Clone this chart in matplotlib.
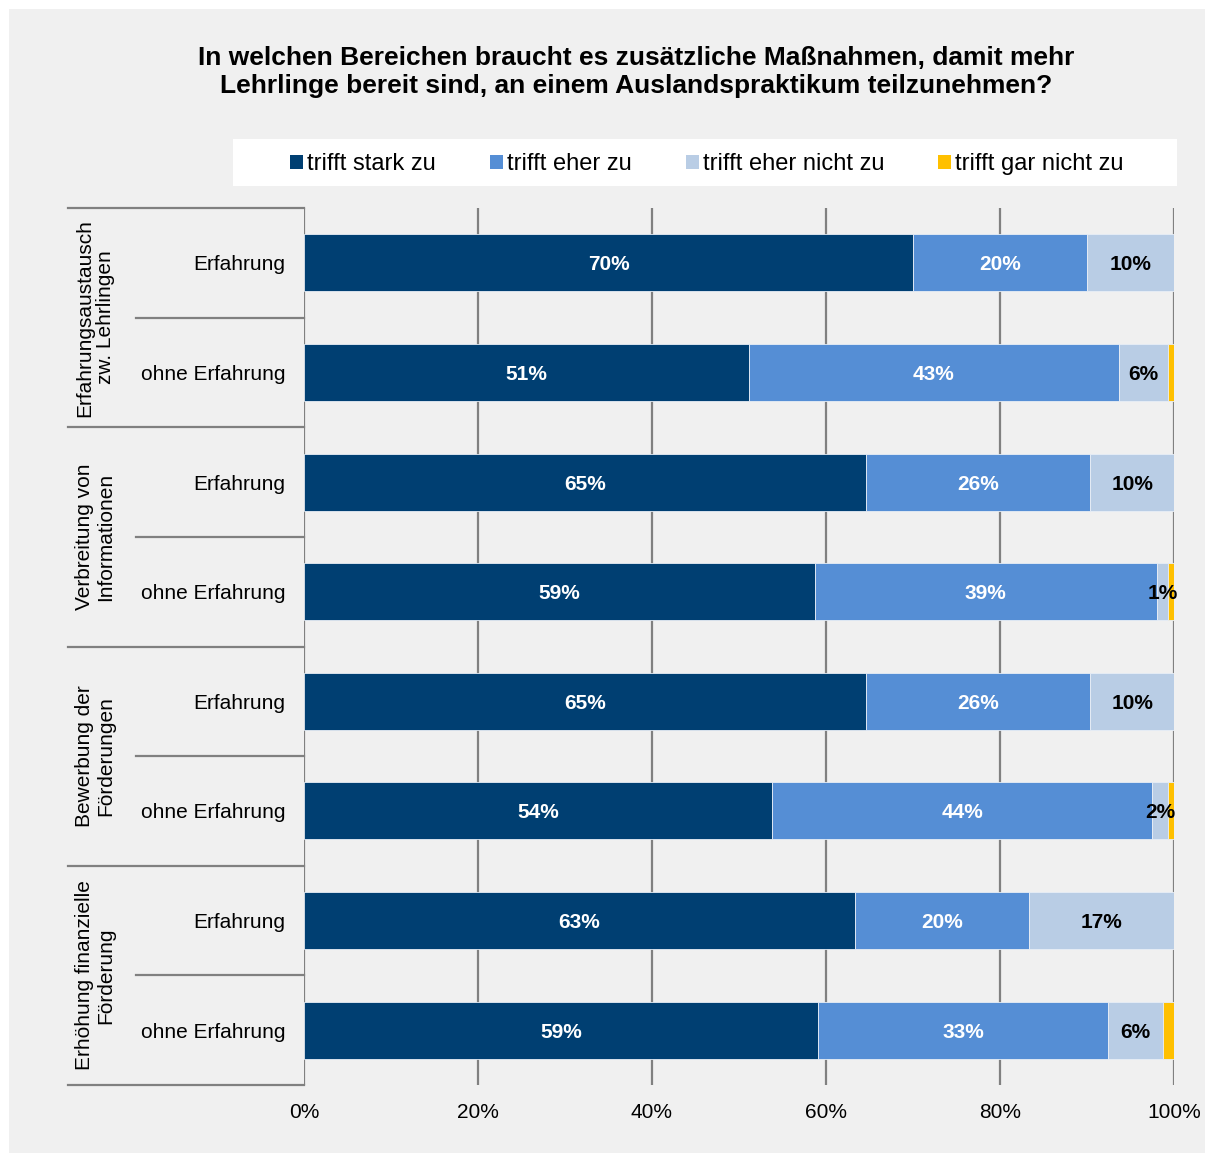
import numpy as np
import matplotlib.pyplot as plt
import matplotlib.transforms as mtransforms
from matplotlib.patches import Rectangle, Patch

plt.rcParams['font.family'] = ['Liberation Sans', 'DejaVu Sans']

# data
groups = ["Erfahrungsaustausch\nzw. Lehrlingen", "Verbreitung von\nInformationen",
          "Bewerbung der\nFörderungen", "Erhöhung finanzielle\nFörderung"]
subgroups = ["Erfahrung", "ohne Erfahrung"]
series_names = ["trifft stark zu", "trifft eher zu", "trifft eher nicht zu", "trifft gar nicht zu"]
stark = [70.0, 51.1, 64.6, 58.7, 64.6, 53.8, 63.3, 59.1]
eher = [20.0, 42.6, 25.8, 39.3, 25.8, 43.7, 20.0, 33.3]
eher_nicht = [10.0, 5.6, 9.6, 1.3, 9.6, 1.8, 16.7, 6.3]
gar_nicht = [0.0, 0.7, 0.0, 0.7, 0.0, 0.7, 0.0, 1.3]
colors = ["#003f72", "#558ed5", "#b9cde5", "#ffc000"]
label_colors = ["white", "white", "black", None]

W, H = 1214, 1162
fig = plt.figure(figsize=(W / 100, H / 100), dpi=100, facecolor="white")
fig.patches.append(Rectangle((9 / W, 9 / H), 1196 / W, 1144 / H, transform=fig.transFigure,
                             facecolor="#f0f0f0", edgecolor="none", zorder=-10))

ax = fig.add_axes([304 / W, 1 - 1085 / H, 870 / W, 877 / H])
ax.set_facecolor("#f0f0f0")

y = np.arange(len(stark))
left = np.zeros(len(stark))
for vals, col, lcol in zip([stark, eher, eher_nicht, gar_nicht], colors, label_colors):
    vals = np.array(vals)
    ax.barh(y, vals, left=left, height=0.52, color=col, edgecolor="#e8eef6", linewidth=0.6)
    if lcol:
        for yi, l, v in zip(y, left, vals):
            ax.text(l + v / 2, yi, f"{v:.0f}%", ha="center", va="center_baseline", color=lcol,
                    fontsize=15, fontweight="bold")
    left += vals

ax.set_xlim(0, 100)
ax.set_ylim(7.5, -0.5)
ax.set_xticks(np.arange(0, 101, 20))
ax.set_xticklabels([f"{t}%" for t in range(0, 101, 20)])
ax.set_yticks([])
ax.tick_params(axis="x", length=0, pad=13, labelsize=15)
ax.grid(axis="x", color="#808080", linewidth=1.6)
ax.set_axisbelow(True)
for s in ax.spines.values():
    s.set_visible(False)

trans = mtransforms.blended_transform_factory(ax.transAxes, ax.transData)
for b in [-0.5, 1.5, 3.5, 5.5, 7.5]:
    ax.plot([-0.2713, 0], [b, b], transform=trans, color="#808080", lw=1.6, clip_on=False)
for b in [0.5, 2.5, 4.5, 6.5]:
    ax.plot([-0.1931, 0], [b, b], transform=trans, color="#808080", lw=1.6, clip_on=False)

for i in range(len(stark)):
    ax.text(-0.0218, i, subgroups[i % 2], transform=trans, ha="right", va="center_baseline",
            fontsize=15)
for g, name in enumerate(groups):
    ax.text(-0.2402, 2 * g + 0.5, name, transform=trans, rotation=90, ha="center", va="center",
            multialignment="center", fontsize=15, linespacing=1.15)

fig.text(636.5 / W, 1 - 72 / H,
         "In welchen Bereichen braucht es zusätzliche Maßnahmen, damit mehr\n"
         "Lehrlinge bereit sind, an einem Auslandspraktikum teilzunehmen?",
         ha="center", va="center", fontsize=19, fontweight="bold", linespacing=1.2)

fig.patches.append(Rectangle((233 / W, 1 - 186 / H), 944 / W, 47 / H, transform=fig.transFigure,
                             facecolor="white", edgecolor="none", zorder=-5))
handles = [Patch(facecolor=c) for c in colors]
fig.legend(handles, series_names, loc="center", bbox_to_anchor=(707 / W, 1 - 164 / H), ncol=4,
           frameon=False, fontsize=17, handlelength=0.55, handleheight=0.55,
           handletextpad=0.17, columnspacing=2.29, borderpad=0)

fig.savefig("out.png", dpi=100, facecolor="white")
